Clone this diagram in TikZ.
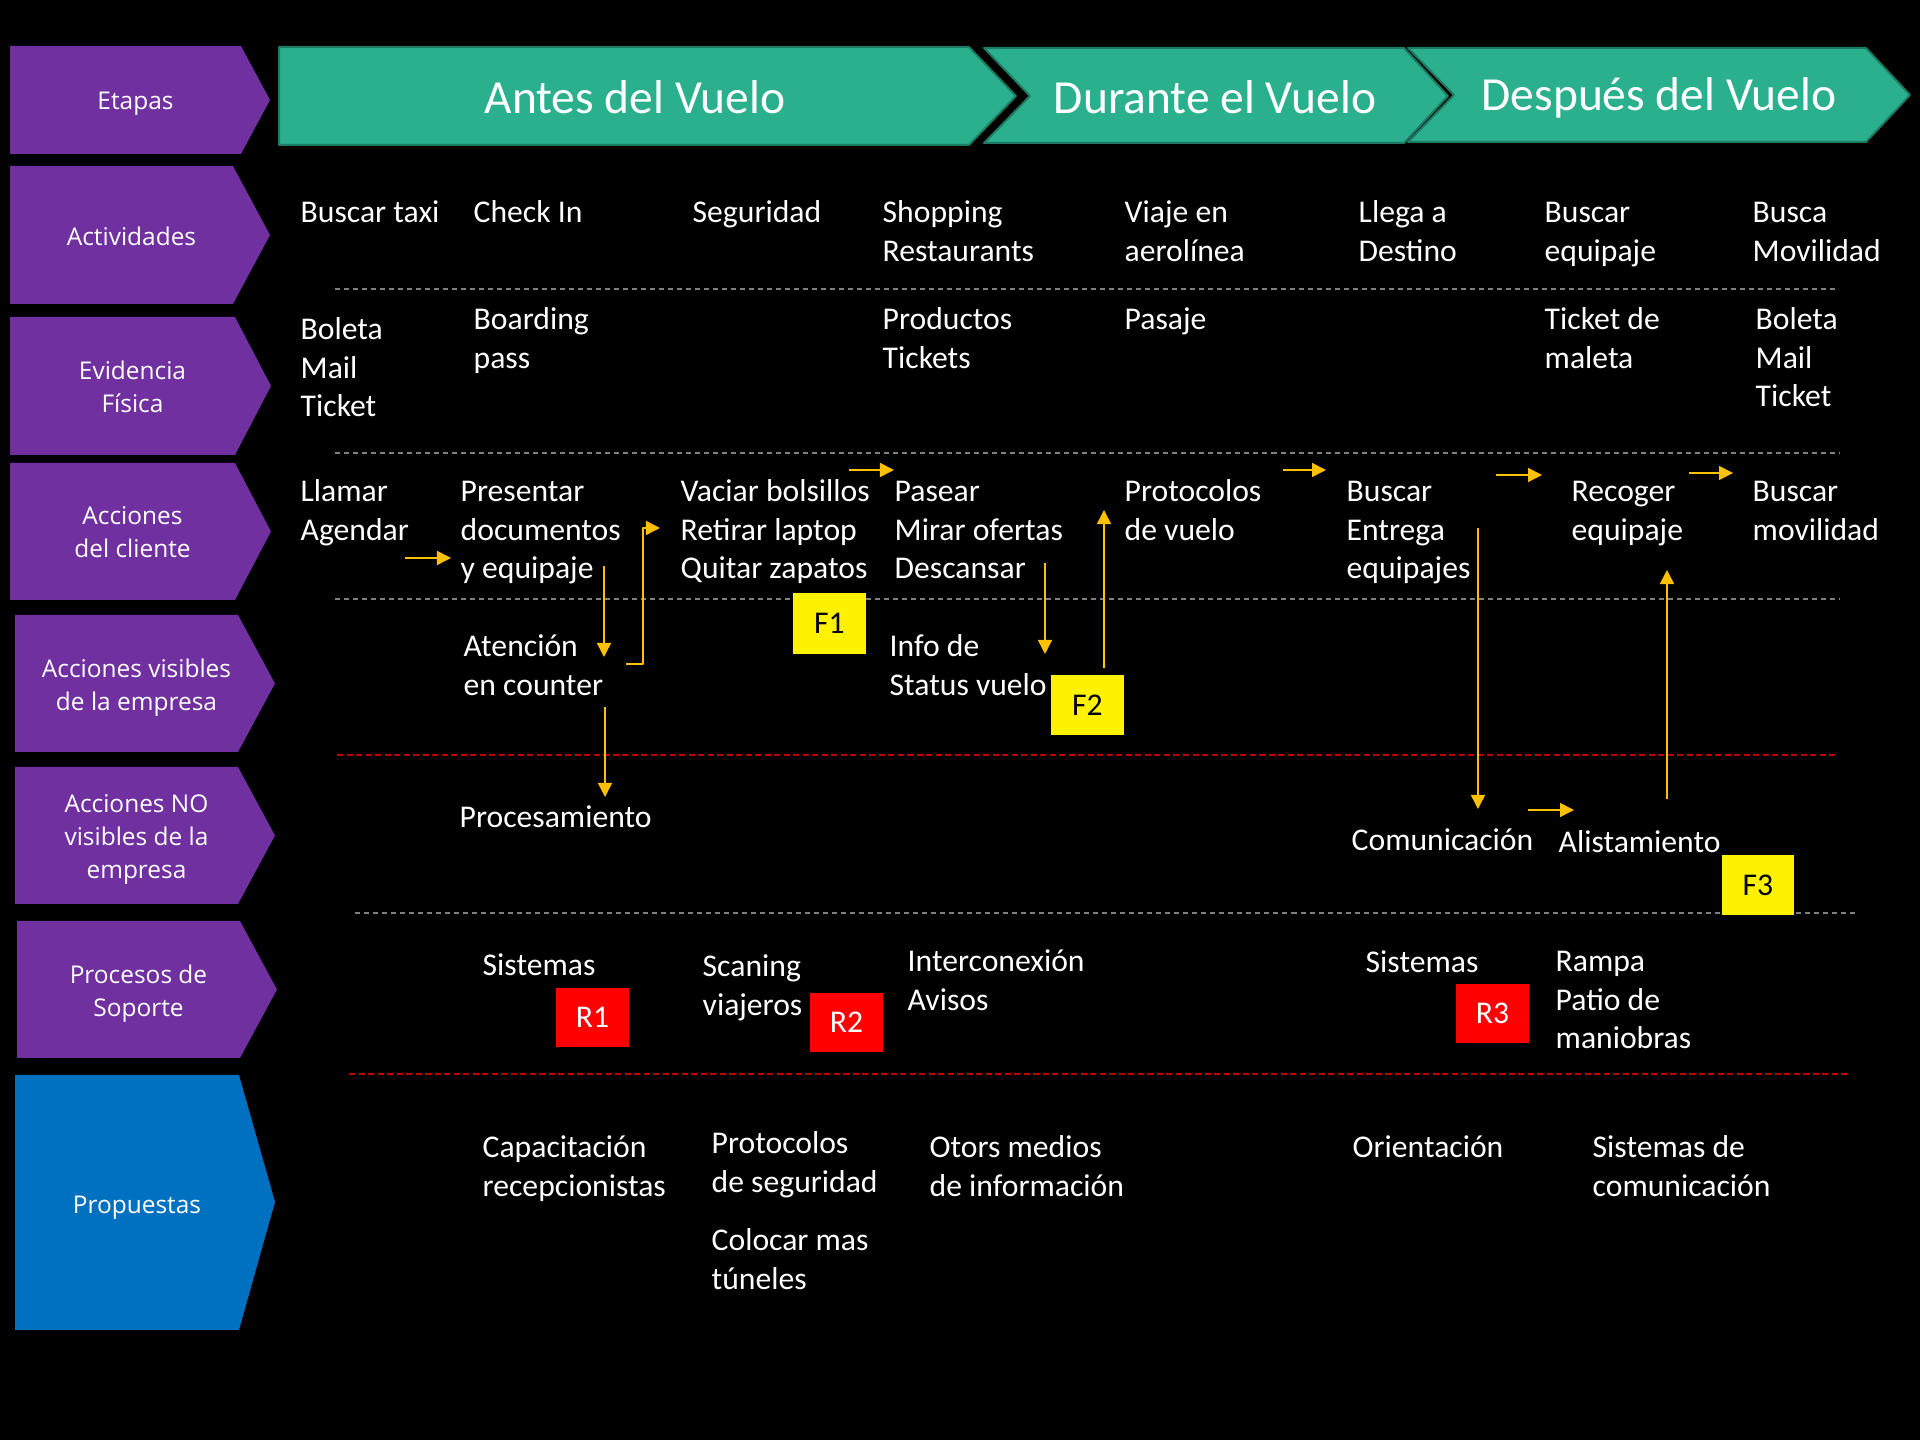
\documentclass[tikz,border=0pt]{standalone}
\usepackage{fontspec}
\setmainfont{Carlito}
\newfontfamily\etiqfont{Open Sans}
\usetikzlibrary{arrows.meta}
\definecolor{morado}{RGB}{112,48,160}
\definecolor{azul}{RGB}{0,112,192}
\definecolor{verde}{RGB}{43,176,142}
\definecolor{verdeosc}{RGB}{30,122,98}
\definecolor{naranja}{RGB}{255,192,0}
\definecolor{gris}{RGB}{128,128,128}
\definecolor{rojo}{RGB}{192,0,0}
\tikzset{
  txt/.style={anchor=base west,inner sep=0pt,text=white,align=left,font=\fontsize{9}{11}\selectfont},
  etiq/.style={text=white,align=center,inner sep=0pt,text depth=0pt,font=\etiqfont\fontsize{6.95}{9.4}\selectfont},
  fase/.style={text=white,inner sep=0pt,font=\fontsize{13.5}{15}\selectfont},
  falla/.style={fill=yellow,text=black,minimum width=0.72cm,minimum height=0.6cm,inner sep=0pt,font=\fontsize{9}{11}\selectfont},
  riesgo/.style={fill=red,text=white,minimum width=0.73cm,minimum height=0.59cm,inner sep=0pt,font=\fontsize{9}{11}\selectfont},
  flecha/.style={draw=naranja,line width=0.015cm,-{Triangle[length=0.14cm,width=0.14cm]}},
  sepgris/.style={draw=gris,line width=0.013cm,dash pattern=on 0.05cm off 0.04cm},
  seprojo/.style={draw=rojo,line width=0.02cm,dash pattern=on 0.06cm off 0.035cm}
}
\begin{document}
\begin{tikzpicture}[x=0.01cm,y=-0.01cm,line join=round]
  \useasboundingbox (0,0) rectangle (1920,1440);
  \fill[black] (0,0) rectangle (1920,1440);
  % filas (texto en la ultima linea de base)
  \foreach \ya/\yb/\xa/\xb/\xc/\txt [count=\i] in {46/154/10/241/270/Etapas,
      166/304/10/233/270/Actividades, 317/455/10/235/271/{Evidencia\\Física},
      463/600/10/235/271/{Acciones\\del cliente}, 615/752/15/238/275/{Acciones visibles\\de la empresa},
      767/904/15/238/275/{Acciones NO\\visibles de la\\empresa}, 921/1058/17/240/277/{Procesos de\\Soporte}}
  {
    \fill[morado] (\xa,\ya) -- (\xb,\ya) -- (\xc,{(\ya+\yb)/2}) -- (\xb,\yb) -- (\xa,\yb) -- cycle;
    \node[etiq] (fila\i) at ({(\xa+\xb)/2+10},{(\ya+\yb)/2+1}) {\txt};
  }
  \fill[azul] (15,1075) -- (239,1075) -- (275,1202) -- (239,1330) -- (15,1330) -- cycle;
  \node[etiq] (propuestas) at (137,1205) {Propuestas};
  % etapas
  \filldraw[fill=verde,draw=verdeosc,line width=0.02cm] (279,47) -- (969,47) -- (1016,96) -- (969,145) -- (279,145) -- cycle;
  \filldraw[fill=verde,draw=verdeosc,line width=0.02cm] (984,48) -- (1404,48) -- (1448,96) -- (1404,143) -- (984,143) -- (1030,96) -- cycle;
  \filldraw[fill=verde,draw=verdeosc,line width=0.02cm] (1408,48) -- (1866,48) -- (1910,95) -- (1866,142) -- (1408,142) -- (1454,95) -- cycle;
  \node[fase] (antes) at (635,97) {Antes del Vuelo};
  \node[fase] (durante) at (1215,97) {Durante el Vuelo};
  \node[fase] (despues) at (1659,98) {Después del Vuelo};
  % separadores
  \draw[sepgris] (335,289) -- (1837,289);
  \draw[sepgris] (335,453) -- (1840,453);
  \draw[sepgris] (335,599) -- (1840,599);
  \draw[seprojo] (337,755) -- (1838,755);
  \draw[sepgris] (355,913) -- (1858,913);
  \draw[seprojo] (349,1074) -- (1850,1074);
  % actividades
  \node[txt] (taxi) at (300,222.5) {Buscar taxi};
  \node[txt] (checkin) at (473,222.5) {Check In};
  \node[txt] (seguridad) at (692,222.5) {Seguridad};
  \node[txt] (shopping) at (882,261.2) {Shopping\\Restaurants};
  \node[txt] (viaje) at (1124,261.2) {Viaje en\\aerolínea};
  \node[txt] (llega) at (1358,261.2) {Llega a\\Destino};
  \node[txt] (buscaeq) at (1544,261.2) {Buscar\\equipaje};
  \node[txt] (buscamov) at (1752,261.2) {Busca\\Movilidad};
  % evidencia fisica
  \node[txt] (boleta) at (300,416.8) {Boleta\\Mail\\Ticket};
  \node[txt] (boarding) at (473,368.2) {Boarding\\pass};
  \node[txt] (productos) at (882,368.2) {Productos\\Tickets};
  \node[txt] (pasaje) at (1124,329.5) {Pasaje};
  \node[txt] (ticketmal) at (1544,368.2) {Ticket de\\maleta};
  \node[txt] (boleta2) at (1755,406.8) {Boleta\\Mail\\Ticket};
  % acciones del cliente
  \node[txt] (llamar) at (300,540.2) {Llamar\\Agendar};
  \node[txt] (presentar) at (460,578.8) {Presentar\\documentos\\y equipaje};
  \node[txt] (vaciar) at (680,578.8) {Vaciar bolsillos\\Retirar laptop\\Quitar zapatos};
  \node[txt] (pasear) at (894,578.8) {Pasear\\Mirar ofertas\\Descansar};
  \node[txt] (protocolos) at (1124,540.2) {Protocolos\\de vuelo};
  \node[txt] (entrega) at (1346,578.8) {Buscar\\Entrega\\equipajes};
  \node[txt] (recoger) at (1571,540.2) {Recoger\\equipaje};
  \node[txt] (movilidad) at (1752,540.2) {Buscar\\movilidad};
  % acciones visibles
  \node[txt] (atencion) at (463,695.2) {Atención\\en counter};
  \node[txt] (info) at (889,695.2) {Info de\\Status vuelo};
  % acciones no visibles
  \node[txt] (procesa) at (459,827.5) {Procesamiento};
  \node[txt] (comunica) at (1351,850.5) {Comunicación};
  \node[txt] (alista) at (1558,852.5) {Alistamiento};
  % procesos de soporte
  \node[txt] (sistemas) at (482,975.5) {Sistemas};
  \node[txt] (scaning) at (702,1015.2) {Scaning\\viajeros};
  \node[txt] (interc) at (907,1010.2) {Interconexión\\Avisos};
  \node[txt] (sistemas2) at (1365,972.5) {Sistemas};
  \node[txt] (rampa) at (1555,1048.8) {Rampa\\Patio de\\maniobras};
  % propuestas
  \node[txt] (capac) at (482,1196.2) {Capacitación\\recepcionistas};
  \node[txt] (protseg) at (711,1192.2) {Protocolos\\de seguridad};
  \node[txt] (colocar) at (711,1289.2) {Colocar mas\\túneles};
  \node[txt] (otros) at (929,1196.2) {Otors medios\\de información};
  \node[txt] (orient) at (1352,1157.5) {Orientación};
  \node[txt] (sistcom) at (1592,1196.2) {Sistemas de\\comunicación};
  % fallas y riesgos
  \node[falla] (f1) at (829.5,623.5) {F1};
  \node[falla] (f2) at (1087.5,705) {F2};
  \node[falla] (f3) at (1758,885) {F3};
  \node[riesgo] (r1) at (592.5,1017.5) {R1};
  \node[riesgo] (r2) at (846.5,1022.5) {R2};
  \node[riesgo] (r3) at (1492.5,1013.5) {R3};
  % flujo
  \coordinate (llamar-o) at (405,558);
  \coordinate (presentar-i) at (451,558);
  \coordinate (presentar-o) at (604,566);
  \coordinate (atencion-i) at (604,657);
  \coordinate (atencion-o) at (626,664);
  \coordinate (vaciar-i) at (660,528);
  \coordinate (atencion-b) at (605,707);
  \coordinate (procesa-i) at (605,797);
  \coordinate (vaciar-o) at (849,470);
  \coordinate (pasear-i) at (894,470);
  \coordinate (pasear-o) at (1045,563);
  \coordinate (info-i) at (1045,654);
  \coordinate (info-o) at (1104,668);
  \coordinate (protocolos-i) at (1104,510);
  \coordinate (protocolos-o) at (1283,470);
  \coordinate (entrega-i) at (1326,470);
  \coordinate (entrega-o) at (1478,528);
  \coordinate (comunica-i) at (1478,809);
  \coordinate (comunica-o) at (1528,810);
  \coordinate (alista-i) at (1574,810);
  \coordinate (alista-o) at (1667,799);
  \coordinate (recoger-i) at (1667,570);
  \coordinate (entrega-d) at (1496,475);
  \coordinate (recoger-j) at (1542,475);
  \coordinate (recoger-o) at (1689,473);
  \coordinate (movilidad-i) at (1733,473);
  \draw[flecha] (llamar-o) -- (presentar-i);
  \draw[flecha] (presentar-o) -- (atencion-i);
  \draw[flecha] (atencion-o) -| ([xshift=-0.17cm]vaciar-i) -- (vaciar-i);
  \draw[flecha] (atencion-b) -- (procesa-i);
  \draw[flecha] (vaciar-o) -- (pasear-i);
  \draw[flecha] (pasear-o) -- (info-i);
  \draw[flecha] (info-o) -- (protocolos-i);
  \draw[flecha] (protocolos-o) -- (entrega-i);
  \draw[flecha] (entrega-o) -- (comunica-i);
  \draw[flecha] (comunica-o) -- (alista-i);
  \draw[flecha] (alista-o) -- (recoger-i);
  \draw[flecha] (entrega-d) -- (recoger-j);
  \draw[flecha] (recoger-o) -- (movilidad-i);
\end{tikzpicture}
\end{document}
